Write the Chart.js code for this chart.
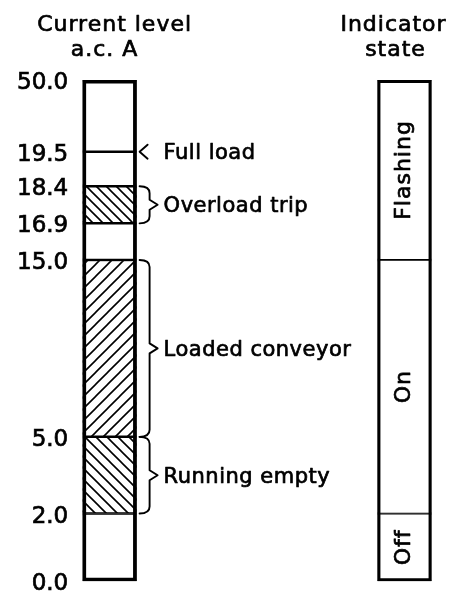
<!DOCTYPE html>
<html>
<head>
<meta charset="utf-8">
<script src="https://cdn.jsdelivr.net/npm/chart.js@4.4.1/dist/chart.umd.min.js"></script>
<style>
  html, body { margin: 0; padding: 0; background: #ffffff; }
  canvas { display: block; }
</style>
</head>
<body>
<canvas id="c" width="449" height="601"></canvas>
<script>
// ---------------- data ----------------
const levelTicks = [0.0, 2.0, 5.0, 15.0, 16.9, 18.4, 19.5, 50.0];
const levelBands = [[0, 2], [2, 5], [5, 15], [15, 16.9], [16.9, 18.4], [18.4, 19.5], [19.5, 50]];
const conditionLabels = ['Full load', 'Overload trip', 'Loaded conveyor', 'Running empty'];
const conditionRanges = [[19.5, 19.5], [16.9, 18.4], [5, 15], [2, 5]];
const indicatorStates = ['Off', 'On', 'Flashing'];
const indicatorRanges = [[0, 2], [2, 15], [15, 50]];
const columnTitles = [['Current level', 'a.c. A'], ['Indicator', 'state']];
const columnIndex = [0, 1];

// ---------------- schematic (non-linear) axis layout ----------------
// fraction of the axis height at which each level tick sits (drawing is not to scale)
const levelTickStops = [0, 0.135, 0.288, 0.641, 0.714, 0.788, 0.857, 1];

function toStopFraction(v) {
  const n = levelTicks.length;
  if (v <= levelTicks[0]) return levelTickStops[0];
  if (v >= levelTicks[n - 1]) return levelTickStops[n - 1];
  for (let i = 1; i < n; i++) {
    if (v <= levelTicks[i]) {
      const t = (v - levelTicks[i - 1]) / (levelTicks[i] - levelTicks[i - 1]);
      return levelTickStops[i - 1] + t * (levelTickStops[i] - levelTickStops[i - 1]);
    }
  }
  return 1;
}
function fromStopFraction(d) {
  const n = levelTicks.length;
  for (let i = 1; i < n; i++) {
    if (d <= levelTickStops[i]) {
      const t = (d - levelTickStops[i - 1]) / (levelTickStops[i] - levelTickStops[i - 1]);
      return levelTicks[i - 1] + t * (levelTicks[i] - levelTicks[i - 1]);
    }
  }
  return levelTicks[n - 1];
}

class StopScale extends Chart.LinearScale {
  getPixelForValue(value) { return this.getPixelForDecimal(toStopFraction(value)); }
  getValueForPixel(pixel) { return fromStopFraction(this.getDecimalForPixel(pixel)); }
}
StopScale.id = 'stops';
StopScale.defaults = Chart.LinearScale.defaults;
Chart.register(StopScale);

// ---------------- styles ----------------
const canvas = document.getElementById('c');
const mainCtx = canvas.getContext('2d');

function hatch(dir, size, lw) {
  const c = document.createElement('canvas');
  c.width = c.height = size;
  const g = c.getContext('2d');
  g.fillStyle = '#ffffff';
  g.fillRect(0, 0, size, size);
  g.strokeStyle = '#000000';
  g.lineWidth = lw;
  g.beginPath();
  if (dir === 'fwd') {
    g.moveTo(-1, size + 1); g.lineTo(size + 1, -1);
    g.moveTo(-1, 1); g.lineTo(1, -1);
    g.moveTo(size - 1, size + 1); g.lineTo(size + 1, size - 1);
  } else {
    g.moveTo(-1, -1); g.lineTo(size + 1, size + 1);
    g.moveTo(-1, size - 1); g.lineTo(1, size + 1);
    g.moveTo(size - 1, -1); g.lineTo(size + 1, 1);
  }
  g.stroke();
  return mainCtx.createPattern(c, 'repeat');
}
const hatchStyle = {
  'Overload trip': hatch('back', 10, 1.6),
  'Loaded conveyor': hatch('fwd', 12, 1.6),
  'Running empty': hatch('back', 11, 1.6)
};
function bandFill(range) {
  for (let i = 0; i < conditionRanges.length; i++) {
    const r = conditionRanges[i];
    if (r[0] !== r[1] && r[0] === range[0] && r[1] === range[1]) {
      return hatchStyle[conditionLabels[i]] || '#ffffff';
    }
  }
  return '#ffffff';
}

const FONT = '"DejaVu Sans", "Liberation Sans", sans-serif';
const BAR = 54;
const TEXT_STROKE = 0.7;

function boldText(ctx, s, x, y) {
  ctx.fillText(s, x, y);
  ctx.strokeText(s, x, y);
}

// ---------------- annotations plugin ----------------
const annotations = {
  id: 'annotations',
  afterDatasetsDraw(chart) {
    const { ctx, scales } = chart;
    const x = scales.x, y = scales.y;
    const c0 = x.getPixelForValue(columnIndex[0]);
    const c1 = x.getPixelForValue(columnIndex[1]);
    const edge = c0 + BAR / 2;
    ctx.save();
    ctx.strokeStyle = '#000';
    ctx.fillStyle = '#000';
    ctx.lineJoin = 'round';
    ctx.lineCap = 'round';

    // condition labels with brackets / arrow
    ctx.font = '21px ' + FONT;
    ctx.textAlign = 'left';
    ctx.textBaseline = 'middle';
    conditionLabels.forEach((lab, i) => {
      const [lo, hi] = conditionRanges[i];
      const yTop = y.getPixelForValue(hi);
      const yBot = y.getPixelForValue(lo);
      const ym = (yTop + yBot) / 2;
      const x0 = edge + 3, xv = edge + 13, xt = edge + 21;
      ctx.lineWidth = 1.9;
      ctx.beginPath();
      if (lo === hi) {
        ctx.moveTo(edge + 11, ym - 7);
        ctx.lineTo(edge + 3, ym);
        ctx.lineTo(edge + 11, ym + 7);
      } else {
        ctx.moveTo(x0, yTop);
        ctx.quadraticCurveTo(xv, yTop, xv, yTop + 7);
        ctx.lineTo(xv, ym - 5);
        ctx.lineTo(xt, ym);
        ctx.lineTo(xv, ym + 5);
        ctx.lineTo(xv, yBot - 7);
        ctx.quadraticCurveTo(xv, yBot, x0, yBot);
      }
      ctx.stroke();
      ctx.letterSpacing = '0.5px';
      ctx.lineWidth = TEXT_STROKE;
      boldText(ctx, lab, edge + 27, ym + 2);
    });

    // indicator state labels (rotated)
    ctx.font = '22px ' + FONT;
    ctx.letterSpacing = '1px';
    ctx.textAlign = 'center';
    ctx.lineWidth = TEXT_STROKE;
    indicatorStates.forEach((lab, i) => {
      const [lo, hi] = indicatorRanges[i];
      const ym = (y.getPixelForValue(lo) + y.getPixelForValue(hi)) / 2;
      ctx.save();
      ctx.translate(c1, ym);
      ctx.rotate(-Math.PI / 2);
      boldText(ctx, lab, 0, 0);
      ctx.restore();
    });

    // column headings
    ctx.font = '22px ' + FONT;
    ctx.letterSpacing = '1px';
    ctx.textBaseline = 'alphabetic';
    const headOffsets = [[5, -5], [-11, -9]];
    [c0, c1].forEach((cx, k) => {
      boldText(ctx, columnTitles[k][0], cx + headOffsets[k][0], 31);
      boldText(ctx, columnTitles[k][1], cx + headOffsets[k][1], 56);
    });
    ctx.restore();
  }
};

// ---------------- chart ----------------
const lo = levelTicks[0], hi = levelTicks[levelTicks.length - 1];
const barCommon = {
  grouped: false,
  borderSkipped: false,
  borderColor: '#000000',
  maxBarThickness: BAR,
  barThickness: BAR,
  barPercentage: 1,
  categoryPercentage: 1
};

new Chart(canvas, {
  type: 'bar',
  data: {
    datasets: [
      Object.assign({
        label: 'Current level outline',
        data: [{ x: columnIndex[0], y: [lo, hi] }],
        backgroundColor: 'rgba(0,0,0,0)',
        borderWidth: 3.2,
        order: 0
      }, barCommon),
      Object.assign({
        label: 'Current level',
        data: levelBands.map(r => ({ x: columnIndex[0], y: r })),
        backgroundColor: levelBands.map(bandFill),
        borderWidth: { top: 1.6, bottom: 1.6, left: 0, right: 0 },
        order: 1
      }, barCommon),
      Object.assign({
        label: 'Indicator outline',
        data: [{ x: columnIndex[1], y: [lo, hi] }],
        backgroundColor: 'rgba(0,0,0,0)',
        borderWidth: 2.6,
        order: 0
      }, barCommon),
      Object.assign({
        label: 'Indicator state',
        data: indicatorRanges.map(r => ({ x: columnIndex[1], y: r })),
        backgroundColor: '#ffffff',
        borderWidth: { top: 1.2, bottom: 1.2, left: 0, right: 0 },
        order: 1
      }, barCommon)
    ]
  },
  options: {
    responsive: false,
    animation: false,
    events: [],
    layout: { padding: { top: 80, bottom: 16, left: 11, right: 10 } },
    plugins: {
      legend: { display: false },
      tooltip: { enabled: false },
      title: { display: false }
    },
    scales: {
      x: {
        type: 'linear',
        display: false,
        offset: false,
        grid: { offset: false },
        min: -0.12,
        max: 1.117,
        afterBuildTicks(scale) { scale.ticks = columnIndex.map(v => ({ value: v })); }
      },
      y: {
        type: 'stops',
        position: 'left',
        min: lo,
        max: hi,
        grid: { display: false, drawTicks: false },
        border: { display: false },
        afterBuildTicks(scale) { scale.ticks = levelTicks.map(v => ({ value: v })); },
        ticks: {
          autoSkip: false,
          padding: 6,
          labelOffset: 3,
          color: '#000000',
          textStrokeColor: '#000000',
          textStrokeWidth: TEXT_STROKE,
          font: { family: FONT, size: 23 },
          callback: v => Number(v).toFixed(1)
        }
      }
    }
  },
  plugins: [annotations]
});
</script>
</body>
</html>
